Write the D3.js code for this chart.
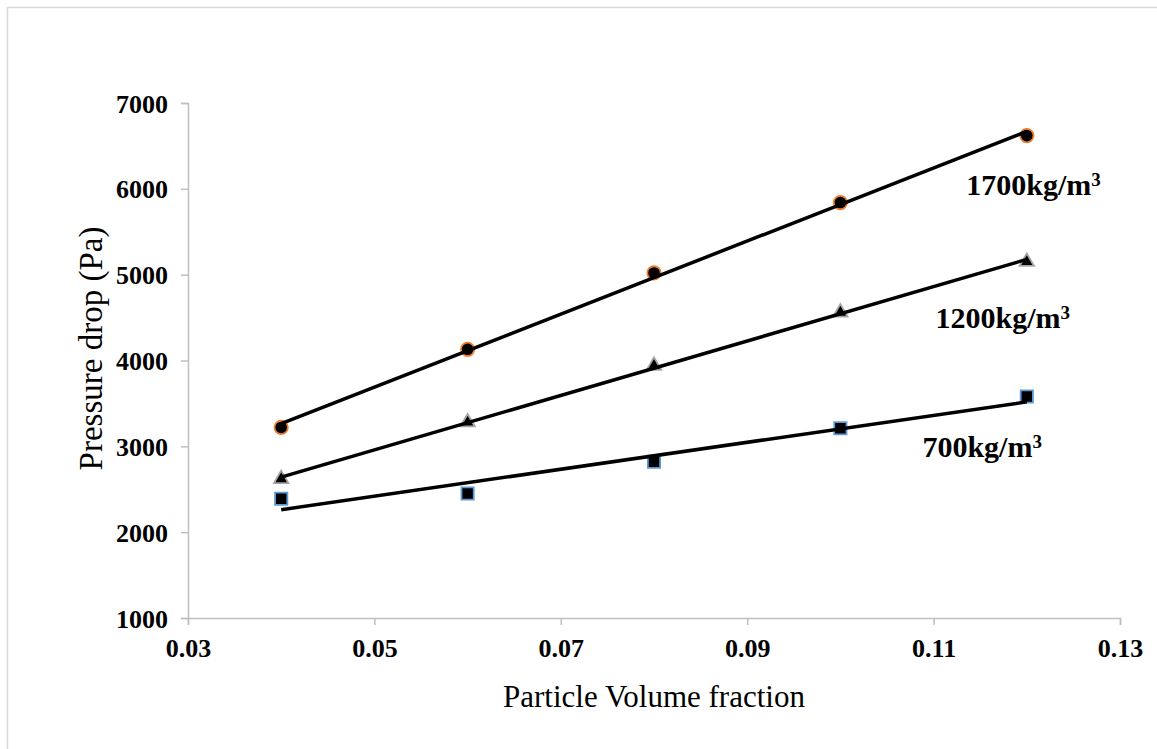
<!DOCTYPE html>
<html>
<head>
<meta charset="utf-8">
<script src="https://cdn.jsdelivr.net/npm/d3@7/dist/d3.min.js"></script>
<style>
  body { margin: 0; background: #fff; }
  text { font-family: "Liberation Serif", "Times New Roman", serif; }
</style>
</head>
<body>
<div id="chart"></div>
<script>
// Data
const fractions = [0.04, 0.06, 0.08, 0.10, 0.12];
const rho1700 = [3220, 4130, 5020, 5840, 6620];
const rho1200 = [2620, 3280, 3940, 4560, 5150];
const rho700 = [2390, 2450, 2820, 3210, 3580];

const xTicks = [0.03, 0.05, 0.07, 0.09, 0.11, 0.13];
const yTicks = [1000, 2000, 3000, 4000, 5000, 6000, 7000];

// label anchor per series, in data units
const seriesLabels = ["1700", "1200", "700"];
const labelX = [0.1135, 0.1102, 0.1088];
const labelY = [5930, 4380, 2880];

const series = [
  { values: rho1700, marker: "circle", stroke: "#ED7D31" },
  { values: rho1200, marker: "triangle", stroke: "#A5A5A5" },
  { values: rho700, marker: "square", stroke: "#5B9BD5" }
];

const totalWidth = 1157, totalHeight = 749;
const margin = { top: 103, left: 188, right: 37, bottom: 131 };
const w = totalWidth - margin.left - margin.right;
const h = totalHeight - margin.top - margin.bottom;

const svg = d3.select("#chart").append("svg")
  .attr("width", totalWidth)
  .attr("height", totalHeight);

// outer chart frame
svg.append("rect")
  .attr("x", 7.5).attr("y", 7.5)
  .attr("width", totalWidth + 10).attr("height", totalHeight + 10)
  .attr("fill", "none").attr("stroke", "#d9d9d9").attr("stroke-width", 1.5);

const g = svg.append("g").attr("transform", `translate(${margin.left},${margin.top})`);

const xScale = d3.scaleLinear().domain([0.03, 0.13]).range([0, w]);
const yScale = d3.scaleLinear().domain([1000, 7000]).range([h, 0]);

// X axis
const xAxis = g.append("g")
  .attr("transform", `translate(0,${h})`)
  .call(d3.axisBottom(xScale).tickValues(xTicks).tickFormat(d3.format(".2f")).tickSize(7).tickPadding(14));
// Y axis
const yAxis = g.append("g")
  .call(d3.axisLeft(yScale).tickValues(yTicks).tickFormat(d3.format("d")).tickSize(7).tickPadding(13));

[xAxis, yAxis].forEach(ax => {
  ax.select(".domain").attr("stroke", "#bfbfbf").attr("stroke-width", 1.5);
  ax.selectAll(".tick line").attr("stroke", "#bfbfbf").attr("stroke-width", 1.5);
  ax.selectAll(".tick text")
    .attr("fill", "#000")
    .style("font-family", "'Liberation Serif', serif")
    .style("font-weight", "bold")
    .style("font-size", "26px");
});
yAxis.selectAll(".tick text").attr("dy", "0.35em");

// Axis titles
g.append("text")
  .attr("x", w / 2).attr("y", h + 89)
  .attr("text-anchor", "middle")
  .style("font-size", "31px")
  .text("Particle Volume fraction");

g.append("text")
  .attr("transform", `translate(${-86},${h / 2 - 12}) rotate(-90)`)
  .attr("text-anchor", "middle")
  .style("font-size", "33px")
  .text("Pressure drop (Pa)");

// Least squares trendline for each series
function fit(xs, ys) {
  const mx = d3.mean(xs), my = d3.mean(ys);
  const slope = d3.sum(xs, (x, i) => (x - mx) * (ys[i] - my)) / d3.sum(xs, x => (x - mx) ** 2);
  return x => my + slope * (x - mx);
}

const symbolFor = {
  circle: d3.symbol().type(d3.symbolCircle).size(140),
  triangle: d3.symbol().type(d3.symbolTriangle).size(90),
  square: d3.symbol().type(d3.symbolSquare).size(150)
};

series.forEach(s => {
  g.selectAll(null)
    .data(s.values)
    .enter()
    .append("path")
    .attr("d", symbolFor[s.marker])
    .attr("transform", (d, i) => `translate(${xScale(fractions[i])},${yScale(d)})`)
    .attr("fill", "#000")
    .attr("stroke", s.stroke)
    .attr("stroke-width", 1.8);
});

const line = d3.line().x(d => xScale(d[0])).y(d => yScale(d[1]));
series.forEach(s => {
  const f = fit(fractions, s.values);
  const ends = [fractions[0], fractions[fractions.length - 1]].map(x => [x, f(x)]);
  g.append("path")
    .attr("fill", "none")
    .attr("stroke", "#000")
    .attr("stroke-width", 3.5)
    .attr("d", line(ends));
});

// series labels
seriesLabels.forEach((lab, i) => {
  const t = g.append("text")
    .attr("x", xScale(labelX[i])).attr("y", yScale(labelY[i]))
    .style("font-size", "30px").style("font-weight", "bold");
  t.append("tspan").text(lab + "kg/m");
  t.append("tspan").attr("dy", "-0.45em").style("font-size", "19px").text("3");
});
</script>
</body>
</html>
